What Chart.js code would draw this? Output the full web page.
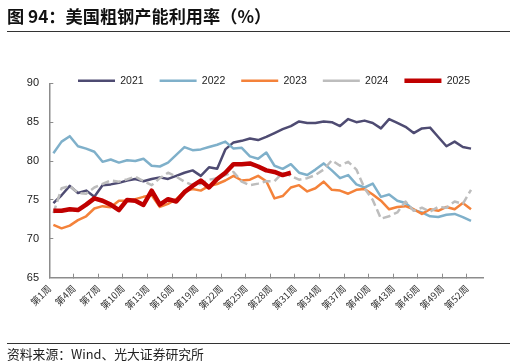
<!DOCTYPE html>
<html>
<head>
<meta charset="utf-8">
<script src="https://cdn.jsdelivr.net/npm/chart.js@4.4.0/dist/chart.umd.min.js"></script>
<style>
  body { margin: 0; background: #fff; }
  #wrap { position: relative; width: 516px; height: 363px; overflow: hidden; font-family: "Noto Sans CJK SC", sans-serif; }
  #Chart { position: absolute; left: 0; top: 0; }
  #title { position: absolute; left: 7px; top: 4px; width: 503px; height: 27px; border-bottom: 1px solid #333; font-size: 17.2px; font-weight: bold; line-height: 24px; color: #111; }
  #src { position: absolute; left: 7px; top: 343px; width: 503px; border-top: 1px solid #333; font-size: 12.8px; line-height: 19px; color: #222; }
</style>
</head>
<body>
<div id="wrap">
  <canvas id="Chart" width="516" height="363"></canvas>
  <div id="title">图 94：美国粗钢产能利用率（%）</div>
  <div id="src">资料来源：Wind、光大证券研究所</div>
</div>
<script>
// week labels (第1周 ... 第53周)
const weeks = Array.from({ length: 53 }, (_, i) => '第' + (i + 1) + '周');

const y2021 = [74.6, 75.6, 76.8, 75.9, 76.2, 75.4, 76.9, 77.0, 77.2, 77.5,
  77.7, 77.4, 77.7, 77.9, 77.7, 78.1, 78.5, 78.8, 78.1, 79.2,
  79.0, 81.5, 82.4, 82.6, 82.9, 82.7, 83.1, 83.6, 84.1, 84.5,
  85.1, 84.9, 84.9, 85.1, 85.0, 84.5, 85.4, 85.0, 85.2, 84.9,
  84.2, 85.4, 84.9, 84.4, 83.6, 84.2, 84.3, 83.1, 81.9, 82.5,
  81.8, 81.6];

const y2022 = [81.0, 82.5, 83.2, 81.9, 81.6, 81.2, 79.9, 80.2, 79.8, 80.1,
  80.0, 80.3, 79.4, 79.3, 79.8, 80.8, 81.8, 81.4, 81.5, 81.8,
  82.1, 82.5, 81.6, 81.7, 80.6, 80.3, 81.1, 79.4, 79.0, 79.6,
  78.5, 78.2, 78.9, 79.7, 78.8, 77.8, 78.2, 77.0, 76.6, 77.1,
  75.4, 75.7, 74.9, 74.6, 73.7, 73.4, 72.9, 72.8, 73.1, 73.2,
  72.8, 72.3];

const y2023 = [71.8, 71.35, 71.7, 72.4, 72.9, 73.9, 74.2, 74.05, 74.9, 74.9,
  75.1, 75.4, 75.6, 74.1, 74.5, 75.1, 76.1, 76.4, 76.2, 76.8,
  77.05, 77.5, 78.1, 77.5, 77.6, 78.1, 77.4, 75.2, 75.5, 76.6,
  76.9, 76.1, 76.5, 77.35, 76.3, 76.2, 75.8, 76.3, 76.4, 75.7,
  74.9, 73.8, 74.1, 74.2, 73.8, 73.2, 73.8, 73.6, 74.1, 73.8,
  74.6, 73.8];

const y2024 = [73.3, 76.5, 76.8, 75.9, 75.8, 76.6, 77.05, 77.5, 77.35, 77.65,
  78.0, 77.4, 76.9, 77.8, 78.5, 78.0, 77.35, 76.9, 77.05, 77.6,
  77.8, 78.2, 78.6, 77.35, 76.9, 77.1, 77.4, 77.4, 78.5, 78.1,
  77.6, 77.8, 78.2, 78.9, 80.1, 79.4, 79.9, 78.9, 76.5, 75.0,
  72.6, 72.9, 73.4, 74.8, 73.6, 74.0, 73.5, 74.1, 74.0, 74.8,
  74.5, 76.3];

const y2025 = [73.6, 73.6, 73.8, 73.7, 74.4, 75.2, 74.9, 74.4, 73.7, 75.0,
  74.9, 74.35, 76.2, 74.4, 75.1, 74.8, 76.0, 76.8, 77.5, 76.6,
  77.7, 78.5, 79.6, 79.6, 79.7, 79.3, 78.8, 78.6, 78.2, 78.5];

// each week sits in the middle of its slot on the x axis
function toPoints(arr) {
  return arr.map((v, i) => ({ x: i + 0.5, y: v }));
}

// put the legend row just above the plot, where the original has it
const legendPlace = {
  id: 'legendPlace',
  afterLayout(chart) {
    const lg = chart.legend;
    const area = chart.chartArea;
    const h = lg.bottom - lg.top;
    lg.top = area.top - 23.9;
    lg.bottom = lg.top + h;
    lg.left = area.left + 12.7;
    lg.right = chart.width;
  }
};

const ctx = document.getElementById('Chart').getContext('2d');
const myChart = new Chart(ctx, {
  type: 'line',
  data: {
    datasets: [
      { label: '2021', data: toPoints(y2021), borderColor: '#4e4b72', borderWidth: 2.5, order: 5 },
      { label: '2022', data: toPoints(y2022), borderColor: '#7fb0ca', borderWidth: 2.5, order: 4 },
      { label: '2023', data: toPoints(y2023), borderColor: '#f4823a', borderWidth: 2.5, order: 3 },
      { label: '2024', data: toPoints(y2024), borderColor: '#bdbdbd', borderWidth: 2.5, borderDash: [8, 4], order: 2 },
      { label: '2025', data: toPoints(y2025), borderColor: '#c00000', borderWidth: 4.5, order: 1 }
    ]
  },
  options: {
    responsive: false,
    animation: false,
    layout: { padding: { top: 46.8, right: 32.7, bottom: 20, left: 0 } },
    elements: {
      point: { radius: 0, hoverRadius: 0 },
      line: { tension: 0, borderJoinStyle: 'round', fill: false }
    },
    plugins: {
      legend: {
        position: 'top',
        align: 'start',
        labels: {
          usePointStyle: true,
          pointStyle: 'line',
          pointStyleWidth: 37,
          padding: 16,
          color: '#222',
          font: { family: '"Liberation Sans", Arial, sans-serif', size: 10.5 },
          sort: (a, b) => a.datasetIndex - b.datasetIndex
        }
      },
      tooltip: { enabled: false }
    },
    scales: {
      x: {
        type: 'linear',
        min: 0,
        max: 53,
        border: { color: '#8c8c8c', width: 1.5 },
        grid: { drawOnChartArea: false, tickLength: -4, tickColor: '#8c8c8c', tickWidth: 1 },
        ticks: {
          stepSize: 3,
          includeBounds: false,
          autoSkip: false,
          minRotation: 45,
          maxRotation: 45,
          padding: 9,
          color: '#333',
          font: { family: '"Noto Sans CJK SC", sans-serif', size: 9.5 },
          callback: (v) => weeks[v]
        },
        afterFit: (s) => { s.height = 65.3; }
      },
      y: {
        min: 65,
        max: 90,
        border: { color: '#8c8c8c', width: 1.5 },
        grid: { drawOnChartArea: false, tickLength: -4, tickColor: '#8c8c8c', tickWidth: 1 },
        ticks: {
          stepSize: 5,
          padding: 14.3,
          color: '#222',
          font: { family: '"Liberation Sans", Arial, sans-serif', size: 11 }
        },
        afterFit: (s) => { s.width = 49.3; }
      }
    }
  },
  plugins: [legendPlace]
});
</script>
</body>
</html>
